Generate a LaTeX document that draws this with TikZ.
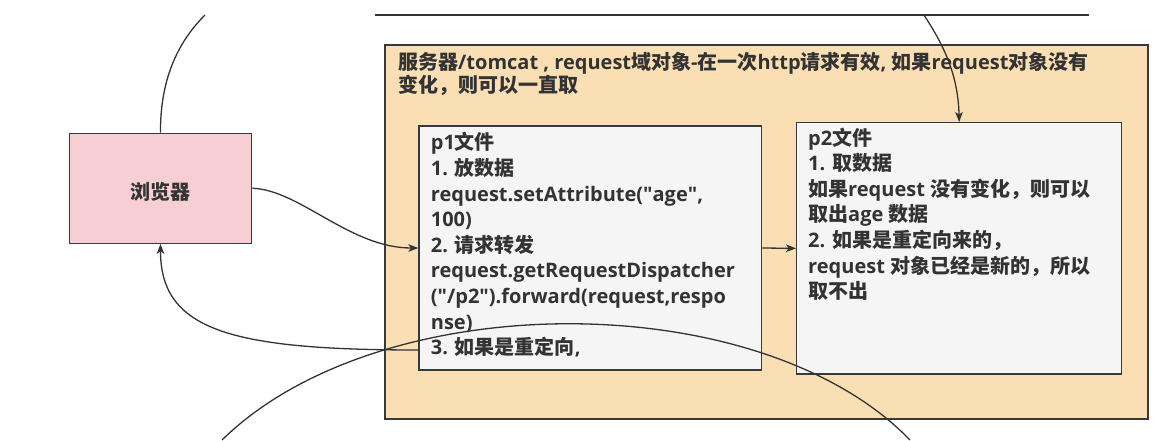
\documentclass[tikz,border=0pt]{standalone}
\usepackage{fontspec}
\setmainfont{Open Sans}
\newfontfamily\qf{Open Sans}[Ligatures=TeXOff]
\newfontfamily\cjkfont{Noto Sans CJK SC}
\usetikzlibrary{arrows.meta}
\newcommand{\zh}[1]{{\cjkfont #1}}
\newcommand{\dq}{{\qf"}}
\definecolor{srvfill}{HTML}{FADFB4}
\definecolor{pfill}{HTML}{F5F5F5}
\definecolor{brfill}{HTML}{F6CED3}
\definecolor{edgec}{HTML}{36393D}
\definecolor{lnc}{HTML}{333333}
\definecolor{txt}{HTML}{333333}
\tikzset{
  base/.style={font=\fontsize{20}{25.6}\selectfont\bfseries, text=txt},
  boxshape/.style={base, draw=edgec, line width=1.3pt, rectangle, inner sep=0pt},
  txtblock/.style={base, anchor=north west, inner sep=0pt, align=left},
  conn/.style={draw=lnc, line width=1.3pt},
  arr/.style={conn, -{Stealth[length=10pt,width=7.5pt,inset=2.5pt]}},
}
\begin{document}
\begin{tikzpicture}[x=1pt,y=-1pt]
\useasboundingbox (0,0) rectangle (1160,440);
% top line (edge of a box above)
\coordinate (tl) at (375,15);
\coordinate (tr) at (1089,15);
\coordinate (topsrc) at (924,15);
\coordinate (bt) at (205,15);
\coordinate (arcL) at (222,440);
\coordinate (arcR) at (910,440);
\coordinate (redir) at (419,350);
\draw[conn] (tl) -- (tr);
% server box
\node[boxshape, fill=srvfill, minimum width=763pt, minimum height=374pt] (server) at (766.5,232) {};
\node[txtblock] (title) at (398,52.3) {\rule{0pt}{17pt}\zh{服务器}/tomcat , request\zh{域对象}-\zh{在一次}http\zh{请求有效}, \zh{如果}request\zh{对象没有}\\[-3pt]\zh{变化，则可以一直取}};
% p1 and p2
\node[boxshape, fill=pfill, minimum width=342.7pt, minimum height=244pt] (p1) at (590.35,248) {};
\node[txtblock] (p1t) at (430.7,132.3) {\rule{0pt}{17pt}p1\zh{文件}\\ 1. \zh{放数据}\\ request.setAttribute(\dq age\dq,\\ 100)\\ 2. \zh{请求转发}\\ request.getRequestDispatcher\\ (\dq/p2\dq).forward(request,respo\\ nse)\\ 3. \zh{如果是重定向},};
\node[boxshape, fill=pfill, minimum width=325pt, minimum height=251.3pt] (p2) at (959.2,248.35) {};
\node[txtblock] (p2t) at (808,127.6) {\rule{0pt}{17pt}p2\zh{文件}\\ 1. \zh{取数据}\\ \zh{如果}request \zh{没有变化，则可以}\\ \zh{取出}age \zh{数据}\\ 2. \zh{如果是重定向来的，}\\ request \zh{对象已经是新的，所以}\\ \zh{取不出}};
% browser
\node[boxshape, fill=brfill, minimum width=182.4pt, minimum height=110pt, text height=23pt, text depth=0pt] (browser) at (160.5,188.2) {\zh{浏览器}};
% connectors
\draw[conn] (browser.north) .. controls (160,70) and (185,35) .. (bt);
\draw[arr] (browser.east) .. controls (300,190) and (350,248) .. (p1.west);
\draw[arr] (p1.east) -- (p2.west);
\draw[arr] (topsrc) .. controls (940,40) and (958,70) .. (p2.north);
\draw[arr] (redir) .. controls (230,350) and (160.5,330) .. (browser.south);
\draw[conn] (arcL) .. controls (380,285) and (760,285) .. (arcR);
\end{tikzpicture}
\end{document}
